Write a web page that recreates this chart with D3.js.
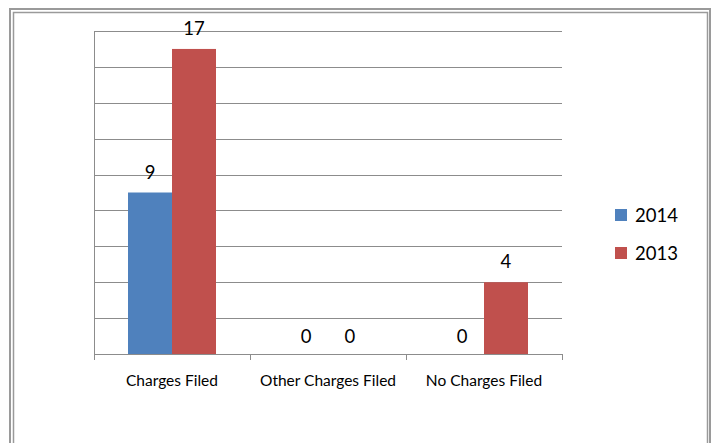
<!DOCTYPE html>
<html>
<head>
<meta charset="utf-8">
<script src="https://cdn.jsdelivr.net/npm/d3@7"></script>
<style>
    body { margin: 0; background: #fff; }
    svg { display: block; font-family: Lato, "Open Sans", sans-serif; }
</style>
</head>
<body>
<div id="chart"></div>
<script>
// Data
const categories = ['Charges Filed', 'Other Charges Filed', 'No Charges Filed'];
const seriesNames = ['2014', '2013'];
const values2014 = [9, 0, 0];
const values2013 = [17, 0, 4];
const gridTicks = [0, 2, 4, 6, 8, 10, 12, 14, 16, 18];

const colors = {'2014': '#4f81bd', '2013': '#c0504d'};

const width = 713;
const height = 443;
const plot = {left: 94, right: 562, top: 31, bottom: 354};

const rows = categories.map((c, i) => ({category: c, '2014': values2014[i], '2013': values2013[i]}));

const svg = d3.select('#chart').append('svg')
    .attr('width', width)
    .attr('height', height);

// double frame around the chart
svg.append('rect')
    .attr('x', 10).attr('y', 9)
    .attr('width', 700).attr('height', 460)
    .attr('fill', 'none').attr('stroke', '#9a9a9a').attr('stroke-width', 2);
svg.append('rect')
    .attr('x', 13.5).attr('y', 12.5)
    .attr('width', 694).attr('height', 460)
    .attr('fill', 'none').attr('stroke', '#9a9a9a').attr('stroke-width', 1.5);

const x0 = d3.scaleBand()
    .domain(categories)
    .range([plot.left, plot.right])
    .paddingInner(0.436)
    .paddingOuter(0.218);

const x1 = d3.scaleBand()
    .domain(seriesNames)
    .range([0, x0.bandwidth()]);

const y = d3.scaleLinear()
    .domain([0, 18])
    .range([plot.bottom, plot.top]);

// gridlines
svg.append('g')
    .selectAll('line')
    .data(gridTicks)
    .join('line')
    .attr('x1', plot.left)
    .attr('x2', plot.right)
    .attr('y1', d => Math.round(y(d)) + 0.5)
    .attr('y2', d => Math.round(y(d)) + 0.5)
    .attr('stroke', '#8c8c8c');

// vertical axis line
svg.append('line')
    .attr('x1', plot.left + 0.5).attr('x2', plot.left + 0.5)
    .attr('y1', plot.top).attr('y2', plot.bottom)
    .attr('stroke', '#8c8c8c');

// category ticks
const step = (plot.right - plot.left) / categories.length;
svg.append('g')
    .selectAll('line')
    .data(d3.range(categories.length + 1))
    .join('line')
    .attr('x1', d => Math.round(plot.left + d * step) + 0.5)
    .attr('x2', d => Math.round(plot.left + d * step) + 0.5)
    .attr('y1', plot.bottom)
    .attr('y2', plot.bottom + 6)
    .attr('stroke', '#8c8c8c');

// bars
const groups = svg.append('g')
    .selectAll('g')
    .data(rows)
    .join('g')
    .attr('transform', d => `translate(${x0(d.category)},0)`);

groups.selectAll('rect')
    .data(d => seriesNames.map(s => ({key: s, value: d[s]})))
    .join('rect')
    .attr('x', d => x1(d.key))
    .attr('y', d => y(d.value))
    .attr('width', x1.bandwidth())
    .attr('height', d => y(0) - y(d.value))
    .attr('fill', d => colors[d.key]);

// value labels
groups.selectAll('text')
    .data(d => seriesNames.map(s => ({key: s, value: d[s]})))
    .join('text')
    .attr('x', d => x1(d.key) + x1.bandwidth() / 2)
    .attr('y', d => y(d.value) - (d.value === 0 ? 11 : 14))
    .attr('text-anchor', 'middle')
    .attr('font-size', 18.5)
    .attr('fill', '#000')
    .text(d => d.value);

// category labels
svg.append('g')
    .selectAll('text')
    .data(categories)
    .join('text')
    .attr('x', d => x0(d) + x0.bandwidth() / 2)
    .attr('y', 386)
    .attr('text-anchor', 'middle')
    .attr('font-size', 15.5)
    .attr('fill', '#000')
    .text(d => d);

// legend
const legend = svg.append('g')
    .attr('transform', 'translate(615,209)');

seriesNames.forEach((s, i) => {
    const item = legend.append('g')
        .attr('transform', `translate(0,${i * 38})`);
    item.append('rect')
        .attr('width', 12)
        .attr('height', 12)
        .attr('fill', colors[s]);
    item.append('text')
        .attr('x', 20)
        .attr('y', 13)
        .attr('font-size', 18.5)
        .attr('fill', '#000')
        .text(s);
});
</script>
</body>
</html>
